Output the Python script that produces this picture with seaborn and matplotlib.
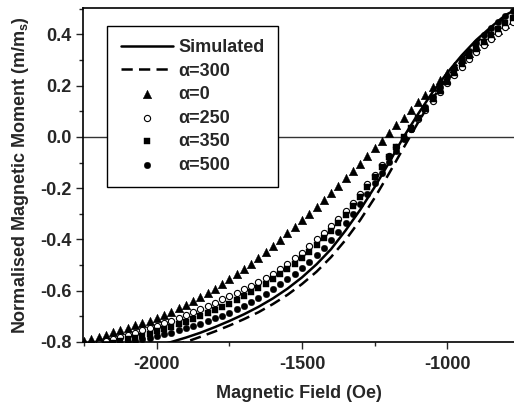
# Normalised magnetic moment vs field - simulated curves and alpha series
import numpy as np
import pandas as pd
import seaborn as sns
import matplotlib.pyplot as plt
from matplotlib.ticker import MultipleLocator

sns.set_style("ticks")
plt.rcParams['font.family'] = ['Liberation Sans', 'DejaVu Sans']
plt.rcParams['font.weight'] = 'bold'
plt.rcParams['mathtext.fontset'] = 'custom'
plt.rcParams['mathtext.bf'] = 'Liberation Sans:bold'
plt.rcParams['mathtext.rm'] = 'Liberation Sans:bold'

# field values for the lines (Oe)
h_line = [-2000, -1950, -1900, -1850, -1800, -1750, -1700, -1650, -1600, -1550,
          -1500, -1450, -1400, -1350, -1300, -1250, -1200, -1150, -1100, -1050,
          -1000, -950, -900, -850, -800, -750]
m_simulated = [-0.816, -0.800, -0.783, -0.764, -0.742, -0.718, -0.692, -0.663, -0.630, -0.592,
               -0.548, -0.497, -0.438, -0.365, -0.285, -0.196, -0.100, 0.000, 0.090, 0.175,
               0.250, 0.318, 0.378, 0.428, 0.475, 0.505]
m_alpha300 = [-0.835, -0.818, -0.800, -0.780, -0.759, -0.736, -0.711, -0.684, -0.652, -0.616,
              -0.574, -0.526, -0.469, -0.402, -0.325, -0.238, -0.142, -0.042, 0.057, 0.150,
              0.232, 0.305, 0.367, 0.421, 0.468, 0.503]

# field values for the measured points (Oe)
h_pts = [-2250, -2225, -2200, -2175, -2150, -2125, -2100, -2075, -2050, -2025,
         -2000, -1975, -1950, -1925, -1900, -1875, -1850, -1825, -1800, -1775,
         -1750, -1725, -1700, -1675, -1650, -1625, -1600, -1575, -1550, -1525,
         -1500, -1475, -1450, -1425, -1400, -1375, -1350, -1325, -1300, -1275,
         -1250, -1225, -1200, -1175, -1150, -1125, -1100, -1075, -1050, -1025,
         -1000, -975, -950, -925, -900, -875, -850, -825, -800, -775]
m_alpha0 = [-0.797, -0.788, -0.780, -0.771, -0.762, -0.753, -0.744, -0.735, -0.726, -0.717,
            -0.708, -0.695, -0.682, -0.668, -0.654, -0.640, -0.625, -0.610, -0.592, -0.574,
            -0.555, -0.535, -0.514, -0.494, -0.474, -0.450, -0.426, -0.401, -0.376, -0.351,
            -0.326, -0.300, -0.274, -0.247, -0.220, -0.191, -0.162, -0.133, -0.105, -0.075,
            -0.045, -0.015, 0.015, 0.045, 0.075, 0.105, 0.135, 0.164, 0.193, 0.222,
            0.250, 0.277, 0.303, 0.329, 0.353, 0.376, 0.398, 0.419, 0.439, 0.458]
m_alpha250 = [-0.822, -0.813, -0.805, -0.797, -0.789, -0.781, -0.773, -0.764, -0.755, -0.746,
              -0.737, -0.727, -0.717, -0.706, -0.695, -0.683, -0.671, -0.659, -0.647, -0.634,
              -0.621, -0.608, -0.595, -0.581, -0.567, -0.551, -0.534, -0.515, -0.495, -0.474,
              -0.451, -0.426, -0.400, -0.375, -0.348, -0.320, -0.290, -0.258, -0.223, -0.185,
              -0.147, -0.111, -0.075, -0.038, -0.005, 0.032, 0.068, 0.104, 0.140, 0.175,
              0.210, 0.243, 0.274, 0.303, 0.331, 0.358, 0.383, 0.406, 0.428, 0.448]
m_alpha350 = [-0.830, -0.823, -0.817, -0.811, -0.805, -0.797, -0.790, -0.783, -0.775, -0.767,
              -0.759, -0.750, -0.741, -0.731, -0.721, -0.711, -0.700, -0.688, -0.676, -0.663,
              -0.650, -0.636, -0.621, -0.606, -0.590, -0.573, -0.555, -0.536, -0.516, -0.495,
              -0.473, -0.448, -0.422, -0.395, -0.366, -0.336, -0.304, -0.270, -0.234, -0.196,
              -0.157, -0.118, -0.079, -0.040, -0.002, 0.036, 0.073, 0.110, 0.146, 0.181,
              0.216, 0.250, 0.283, 0.314, 0.344, 0.372, 0.398, 0.422, 0.444, 0.464]
m_alpha500 = [-0.838, -0.832, -0.826, -0.820, -0.813, -0.806, -0.800, -0.795, -0.789, -0.783,
              -0.777, -0.770, -0.763, -0.755, -0.747, -0.738, -0.729, -0.719, -0.708, -0.697,
              -0.685, -0.672, -0.658, -0.643, -0.628, -0.611, -0.594, -0.575, -0.555, -0.534,
              -0.511, -0.487, -0.461, -0.433, -0.403, -0.371, -0.337, -0.300, -0.262, -0.222,
              -0.181, -0.139, -0.096, -0.053, -0.010, 0.032, 0.074, 0.115, 0.155, 0.194,
              0.232, 0.268, 0.303, 0.336, 0.367, 0.396, 0.423, 0.448, 0.470, 0.490]

lines = pd.DataFrame({'H': h_line, 'sim': m_simulated, 'a300': m_alpha300})
pts = pd.DataFrame({'H': h_pts, 'a0': m_alpha0, 'a250': m_alpha250,
                    'a350': m_alpha350, 'a500': m_alpha500})

fig = plt.figure(figsize=(5.14, 4.03), dpi=100)
ax = fig.add_axes([0.1615, 0.1514, 0.8385, 0.8288])

ax.axhline(0, color='#333333', lw=1.0, zorder=1)

sns.lineplot(data=lines, x='H', y='sim', ax=ax, color='k', lw=1.8, label='Simulated')
sns.lineplot(data=lines, x='H', y='a300', ax=ax, color='k', lw=1.8,
             linestyle=(0, (4.5, 2.5)), label='α=300')
sns.scatterplot(data=pts, x='H', y='a0', ax=ax, marker='^', s=38, color='k',
                edgecolor='k', linewidth=0.3, label='α=0')
sns.scatterplot(data=pts, x='H', y='a250', ax=ax, marker='o', s=20, color='white',
                edgecolor='k', linewidth=0.8, label='α=250')
sns.scatterplot(data=pts, x='H', y='a350', ax=ax, marker='s', s=17, color='k',
                edgecolor='k', linewidth=0.3, label='α=350')
sns.scatterplot(data=pts, x='H', y='a500', ax=ax, marker='o', s=22, color='k',
                edgecolor='k', linewidth=0.3, label='α=500')

ax.set_xlim(-2254, -770)
ax.set_ylim(-0.8, 0.503)
ax.xaxis.set_major_locator(MultipleLocator(500))
ax.xaxis.set_minor_locator(MultipleLocator(250))
ax.yaxis.set_major_locator(MultipleLocator(0.2))
ax.yaxis.set_minor_locator(MultipleLocator(0.1))
ax.yaxis.set_major_formatter(plt.FuncFormatter(lambda v, p: f'{v:.1f}'))
ax.xaxis.set_major_formatter(plt.FuncFormatter(lambda v, p: f'{v:.0f}'))

ax.tick_params(which='major', direction='out', length=5, width=1.0, labelsize=13)
ax.tick_params(axis='x', which='major', pad=5)
ax.tick_params(which='minor', direction='out', length=3, width=1.0)
for lab in ax.get_xticklabels() + ax.get_yticklabels():
    lab.set_fontweight('bold')

for side in ['left', 'bottom', 'top']:
    ax.spines[side].set_linewidth(1.2)
    ax.spines[side].set_color('k')
ax.spines['right'].set_visible(False)

ax.set_xlabel('Magnetic Field (Oe)', fontsize=13, fontweight='bold', labelpad=9)
ax.set_ylabel(r'Normalised Magnetic Moment (m/m$_\mathbf{s}$)', fontsize=13,
              fontweight='bold', labelpad=6)

leg = ax.legend(loc='upper left', bbox_to_anchor=(0.0557, 0.947), borderaxespad=0,
                frameon=True, fancybox=False, edgecolor='k', framealpha=1,
                prop={'weight': 'bold', 'size': 13}, handlelength=2.9,
                handletextpad=0.3, labelspacing=0.36, borderpad=0.75)
leg.get_frame().set_linewidth(1.0)
leg.set_zorder(5)

fig.savefig('out.png', dpi=100)
